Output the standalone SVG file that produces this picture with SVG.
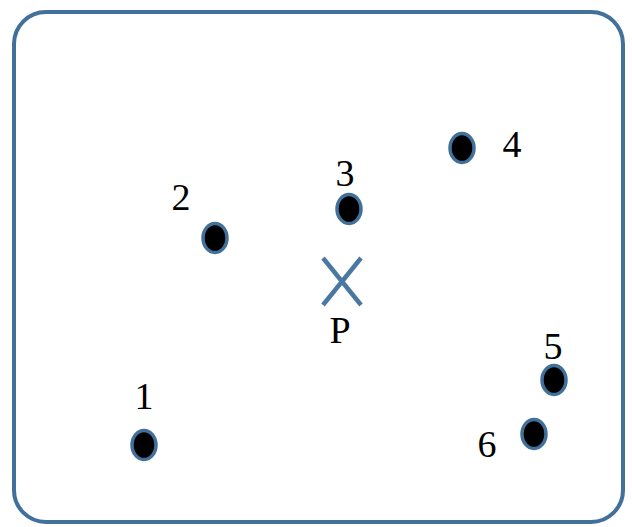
<svg xmlns="http://www.w3.org/2000/svg" width="632" height="527" viewBox="0 0 632 527">
<style>
.frame{fill:#fff;stroke:#41709b;stroke-width:4}
.dot{fill:#000;stroke:#41709b;stroke-width:3.5}
.lbl{font-family:"Liberation Serif","DejaVu Serif",serif;font-size:38px;fill:#000;text-anchor:middle}
.x{stroke:#4a78a2;stroke-width:4.5;stroke-linecap:butt}
</style>
<rect width="632" height="527" fill="#fff"/>
<rect class="frame" x="14" y="12" width="609" height="510" rx="32" ry="32"/>
<g id="n1"><ellipse class="dot" cx="144" cy="445" rx="12" ry="14.5"/><text class="lbl" x="144" y="409">1</text></g>
<g id="n2"><ellipse class="dot" cx="215" cy="238" rx="12" ry="14.5"/><text class="lbl" x="181" y="210">2</text></g>
<g id="n3"><ellipse class="dot" cx="349" cy="209" rx="12" ry="14.5"/><text class="lbl" x="345" y="186">3</text></g>
<g id="n4"><ellipse class="dot" cx="462" cy="148" rx="12" ry="14.5"/><text class="lbl" x="512" y="157">4</text></g>
<g id="n5"><ellipse class="dot" cx="554" cy="380" rx="12" ry="14.5"/><text class="lbl" x="553" y="359">5</text></g>
<g id="n6"><ellipse class="dot" cx="534" cy="434" rx="12" ry="14.5"/><text class="lbl" x="487" y="457">6</text></g>
<g id="P"><line class="x" x1="323" y1="258" x2="361" y2="305"/><line class="x" x1="361" y1="258" x2="323" y2="305"/><text class="lbl" x="340" y="343">P</text></g>
</svg>
